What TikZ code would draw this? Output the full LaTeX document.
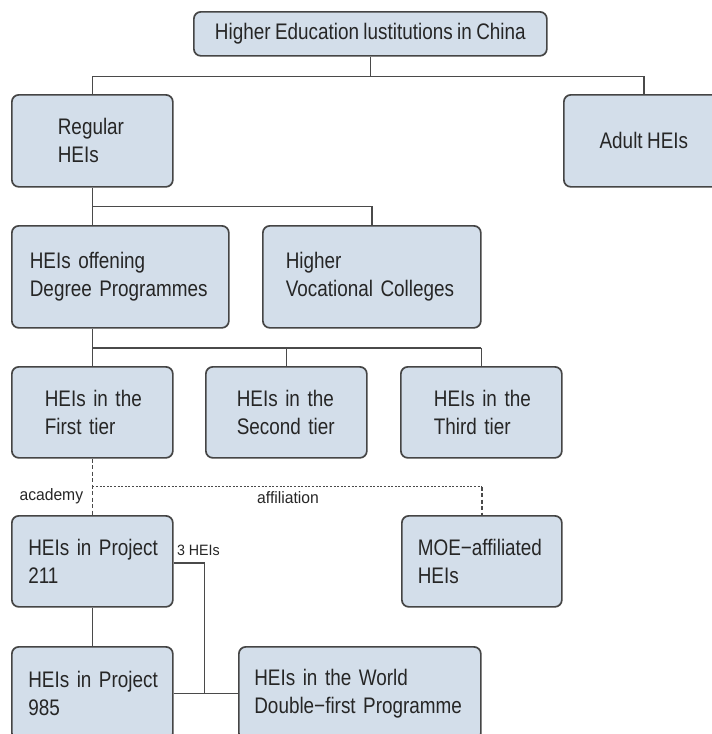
\documentclass[tikz,border=0pt]{standalone}
\usepackage{fontspec}
\setmainfont[FakeStretch=0.84,WordSpace=0.84]{Liberation Sans}
\newfontfamily\lblfont[FakeStretch=0.95,WordSpace=0.95]{Liberation Sans}
\definecolor{boxfill}{HTML}{D3DEEA}
\definecolor{boxdraw}{HTML}{454545}
\definecolor{linecol}{HTML}{4A4A4A}
\definecolor{txtcol}{HTML}{262626}
\begin{document}
\begin{tikzpicture}[x=1pt,y=-1pt,
 hbox/.style={draw=boxdraw, fill=boxfill, rounded corners=7pt, line width=1.7pt,
   anchor=north west, inner ysep=0pt, align=left, text=txtcol,
   font=\fontsize{22.5}{28}\selectfont},
 cbox/.style={hbox, align=center, inner xsep=0pt},
 conn/.style={draw=linecol, line width=1.4pt},
 dconn/.style={conn, dash pattern=on 4pt off 2.5pt},
 hdconn/.style={conn, dash pattern=on 2pt off 1.6pt},
 lbl/.style={font=\lblfont\fontsize{16.5}{18}\selectfont, text=txtcol, inner sep=0pt},
 slbl/.style={lbl, font=\lblfont\fontsize{15}{16}\selectfont}]
\useasboundingbox (0,0) rectangle (712,734);
\clip (0,0) rectangle (712,734);
\fill[white] (0,0) rectangle (712,734);
% boxes
\node[cbox, minimum width=353pt, minimum height=44pt] (top) at (193,11) {Higher Education lustitutions in China};
\node[hbox, inner xsep=46pt, text width=69pt, minimum height=92pt] (reg) at (11,94) {\mbox{Regular}\\\mbox{HEIs}};
\node[cbox, minimum width=160pt, minimum height=92pt] (adult) at (563,94) {Adult HEIs};
\node[hbox, inner xsep=18pt, text width=181pt, minimum height=102pt] (off) at (11,225) {\mbox{HEIs offening}\\\mbox{Degree Programmes}};
\node[hbox, inner xsep=23pt, text width=172pt, minimum height=102pt] (voc) at (262,225) {\mbox{Higher}\\\mbox{Vocational Colleges}};
\node[hbox, inner xsep=33pt, text width=95pt, minimum height=91pt] (t1) at (11,366) {\mbox{HEIs in the}\\\mbox{First tier}};
\node[hbox, inner xsep=31pt, text width=99pt, minimum height=91pt] (t2) at (205,366) {\mbox{HEIs in the}\\\mbox{Second tier}};
\node[hbox, inner xsep=33pt, text width=95pt, minimum height=91pt] (t3) at (400,366) {\mbox{HEIs in the}\\\mbox{Third tier}};
\node[hbox, inner xsep=16.5pt, text width=128pt, minimum height=91pt] (p211) at (11,515) {\mbox{HEIs in Project}\\\mbox{211}};
\node[hbox, inner xsep=16pt, text width=128pt, minimum height=91pt] (moe) at (401,515) {\mbox{MOE−affiliated}\\\mbox{HEIs}};
\node[hbox, inner xsep=16.5pt, text width=128pt, minimum height=93pt] (p985) at (11,646) {\mbox{HEIs in Project}\\\mbox{985}};
\node[hbox, inner xsep=15.5pt, text width=211pt, minimum height=93pt] (world) at (238,646) {\mbox{HEIs in the World}\\\mbox{Double−first Programme}};
% connectors
\draw[conn] (top.south) -- ++(0,20) coordinate (j1);
\draw[conn] (reg.north) |- (j1) -| (adult.north);
\draw[conn] (reg.south) -- ++(0,19) coordinate (j2) -| (voc.north);
\draw[conn] (j2) -- (reg.south |- off.north);
\draw[conn] (t1.north |- off.south) -- ++(0,19) coordinate (j3);
\draw[conn, line width=2.2pt] (j3) -- (j3 -| t3.north);
\draw[conn] (j3 -| t3.north) -- (t3.north);
\draw[conn] (j3) -- (t1.north);
\draw[conn] (j3 -| t2.north) -- (t2.north);
\path (t1.south) ++(0,28) coordinate (j4);
\draw[dconn] (t1.south) -- (p211.north);
\draw[hdconn] (j4) -- (j4 -| moe.north);
\draw[dconn] (j4 -| moe.north) -- (moe.north);
\node[lbl, anchor=east, xshift=-9pt, yshift=-10pt] (acad) at (j4) {academy};
\node[lbl] (affl) at (288,498) {affiliation};
\draw[conn] (p211.south) -- (p985.north);
\draw[conn] (p211.east) ++(0,1.5) -- ++(31,0) coordinate (j5) -- (j5 |- world.west);
\draw[conn] (p985.east) -- (world.west);
\node[slbl, anchor=west] (three) at (177,550) {3 HEIs};
\end{tikzpicture}
\end{document}
